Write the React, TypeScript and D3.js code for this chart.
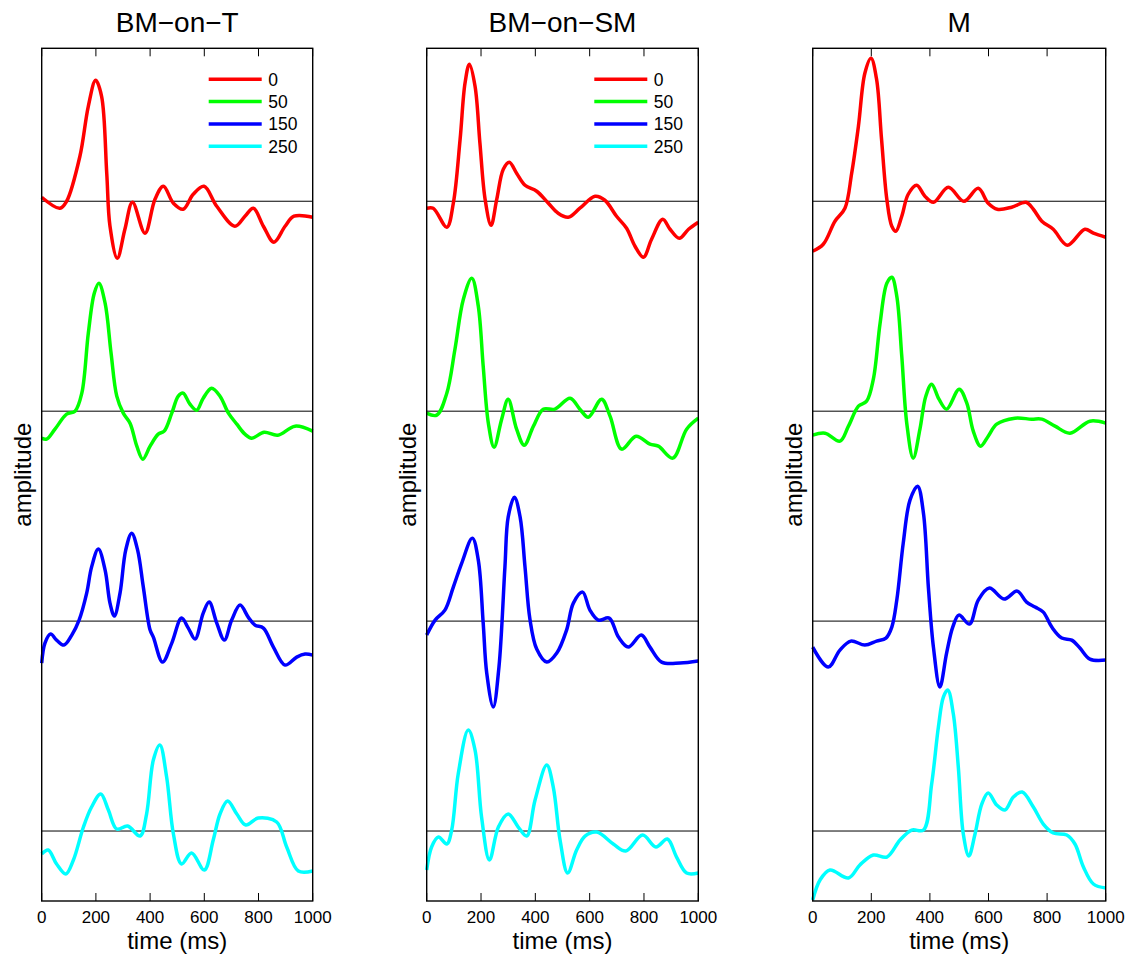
import React, { useRef, useEffect } from 'react';
import * as d3 from 'd3';

type Pt = [number, number];

// panel titles and legend entries
const conditions = ["BM\u2212on\u2212T", "BM\u2212on\u2212SM", "M"];
const delays = ["0", "50", "150", "250"];
const colors = ["#ff0000", "#00ff00", "#0000ff", "#00ffff"];
const xTicks = [0, 200, 400, 600, 800, 1000];

// [time (ms), amplitude], one array per trace
const bmT_0: Pt[] = [[0, 0.4], [67, -0.7], [92, 0], [141, 4.5], [172, 9.5], [199, 12.1], [221, 10.5], [240, 2.8], [252, -2.5], [279, -5.7], [307, -2.8], [335, -0.1], [381, -3.2], [418, 0.2], [449, 1.5], [486, -0.2], [522, -0.8], [559, 0.7], [599, 1.5], [646, -0.5], [713, -2.5], [750, -1.5], [781, -0.7], [818, -2.5], [857, -4.1], [898, -2.5], [931, -1.5], [1000, -1.6]];
const bmT_50: Pt[] = [[0, -2.7], [18, -2.8], [49, -1.8], [92, -0.3], [123, 0], [148, 1.8], [172, 7.8], [194, 11.8], [211, 12.8], [234, 10.8], [256, 5.8], [277, 1.5], [301, -0.2], [326, -1.2], [351, -3.5], [373, -4.8], [400, -3.5], [430, -2.3], [452, -2.0], [480, -0.2], [504, 1.5], [522, 1.8], [547, 0.7], [572, 0.1], [596, 1.3], [627, 2.3], [658, 1.5], [689, -0.2], [720, -1.3], [750, -2.3], [775, -2.7], [821, -2.1], [871, -2.4], [935, -1.5], [1000, -2.0]];
const bmT_150: Pt[] = [[0, -4.2], [12, -2.2], [33, -1.3], [55, -1.9], [82, -2.4], [111, -1.4], [138, 0.1], [166, 2.8], [184, 5.4], [209, 7.2], [234, 5.1], [252, 1.8], [268, 0.5], [289, 2.8], [310, 7.1], [332, 8.8], [354, 7.1], [375, 3.4], [400, -0.9], [412, -1.6], [446, -4.1], [480, -2.2], [516, 0.3], [541, -0.7], [566, -1.8], [596, 0.8], [618, 1.9], [646, -0.2], [674, -1.9], [701, 0.1], [732, 1.6], [762, 0.4], [787, -0.4], [818, -0.7], [855, -2.6], [898, -4.4], [941, -3.6], [972, -3.3], [1000, -3.4]];
const bmT_250: Pt[] = [[0, -2.3], [24, -1.9], [55, -3.3], [89, -4.3], [117, -2.9], [154, 0.4], [184, 2.4], [218, 3.7], [246, 2.1], [277, 0.2], [317, 0.5], [363, -0.5], [387, 1.7], [412, 7.1], [436, 8.6], [461, 5.4], [486, -0.3], [516, -3.3], [553, -2.2], [600, -3.9], [633, -0.9], [658, 1.7], [686, 3.0], [720, 1.7], [753, 0.6], [799, 1.3], [867, 0.9], [904, -1.6], [947, -4.0], [1000, -4.0]];

const bmSM_0: Pt[] = [[0, -0.7], [24, -0.7], [74, -2.6], [98, -0.2], [123, 6.2], [141, 11.8], [157, 13.7], [178, 11.5], [196, 5.8], [215, 0.2], [237, -2.4], [258, 0.2], [282, 3.2], [304, 3.9], [331, 2.8], [362, 1.6], [405, 1.0], [448, -0.2], [484, -1.2], [521, -1.6], [564, -0.7], [620, 0.5], [656, 0.1], [699, -1.5], [736, -2.7], [767, -4.5], [798, -5.6], [828, -3.8], [869, -1.8], [896, -2.8], [930, -3.7], [964, -2.8], [1000, -2.1]];
const bmSM_50: Pt[] = [[0, -0.2], [37, -0.4], [74, 1.8], [104, 6.2], [135, 11.2], [166, 13.3], [190, 10.5], [208, 4.5], [227, -1.2], [248, -3.6], [276, -0.8], [300, 1.2], [331, -1.8], [359, -3.4], [393, -1.5], [429, 0.2], [472, 0.2], [528, 1.3], [564, 0.2], [595, -0.6], [644, 1.2], [675, -0.5], [718, -3.8], [771, -2.5], [822, -3.3], [853, -3.5], [906, -4.7], [957, -1.8], [1000, -0.7]];
const bmSM_150: Pt[] = [[0, -1.4], [31, 0.1], [67, 1.1], [98, 3.4], [129, 5.8], [168, 8.3], [190, 6.1], [208, -0.2], [221, -5.2], [245, -8.6], [266, -4.6], [288, 5.4], [300, 10.4], [323, 12.4], [344, 10.4], [362, 5.4], [380, 0.2], [405, -2.8], [442, -4.1], [479, -3.2], [515, -0.9], [540, 1.8], [574, 2.9], [601, 1.1], [632, 0.1], [672, 0.3], [706, -1.6], [742, -2.6], [790, -1.4], [822, -2.6], [865, -4.1], [933, -4.2], [1000, -4.0]];
const bmSM_250: Pt[] = [[0, -3.9], [18, -1.6], [43, -0.6], [74, -1.3], [92, 0.1], [116, 5.7], [153, 10.1], [178, 8.1], [202, 1.4], [231, -2.9], [264, 0.4], [300, 1.7], [337, 0.4], [368, -0.5], [399, 3.1], [442, 6.6], [466, 4.4], [491, -0.9], [519, -4.2], [552, -1.9], [583, -0.5], [626, -0.1], [687, -1.3], [733, -2.0], [795, -0.4], [844, -1.6], [886, -0.8], [920, -2.6], [957, -4.2], [1000, -4.2]];

const m_0: Pt[] = [[0, -5.0], [36, -4.3], [76, -2.0], [110, -0.7], [133, 2.8], [156, 7.5], [178, 12.8], [199, 14.3], [218, 12.2], [235, 6.2], [253, 0.2], [270, -2.5], [284, -3.0], [304, -1.5], [326, 0.7], [355, 1.6], [383, 0.5], [412, -0.1], [463, 1.4], [516, 0], [565, 1.3], [599, -0.2], [630, -0.8], [679, -0.6], [728, -0.1], [753, -0.8], [782, -2.0], [821, -2.8], [869, -4.4], [929, -2.8], [958, -3.2], [1000, -3.6]];
const m_50: Pt[] = [[0, -2.4], [42, -2.2], [93, -3.0], [122, -1.5], [156, 0.5], [184, 1.0], [207, 3.2], [230, 8.8], [253, 12.8], [270, 13.4], [287, 11.5], [304, 5.5], [321, -1.2], [343, -4.7], [366, -1.8], [386, 1.5], [406, 2.7], [431, 1.2], [457, 0.2], [500, 2.2], [526, 0.8], [548, -2.0], [573, -3.5], [599, -2.5], [628, -1.3], [690, -0.7], [747, -0.8], [782, -0.8], [827, -1.5], [878, -2.2], [946, -1.0], [1000, -1.2]];
const m_150: Pt[] = [[0, -2.6], [53, -4.6], [93, -2.9], [130, -2.0], [178, -2.4], [218, -2.0], [250, -1.7], [270, -0.6], [287, 2.1], [309, 7.8], [332, 12.1], [358, 13.5], [378, 10.8], [395, 3.3], [412, -2.6], [434, -6.6], [457, -3.2], [478, -0.6], [499, 0.6], [535, -0.3], [565, 2.1], [603, 3.3], [653, 2.2], [698, 3.0], [730, 1.9], [759, 1.4], [787, 0.9], [816, -0.6], [850, -1.7], [884, -1.9], [912, -2.7], [946, -3.8], [1000, -3.9]];
const m_250: Pt[] = [[0, -6.9], [25, -4.9], [59, -3.9], [122, -4.7], [161, -3.4], [207, -2.4], [253, -2.6], [298, -0.9], [338, 0.1], [378, 0.1], [406, 4.7], [429, 10.4], [446, 13.4], [461, 14.1], [480, 11.7], [497, 6.4], [514, -0.3], [533, -2.5], [554, -0.3], [577, 2.7], [599, 3.8], [628, 2.6], [656, 2.1], [685, 3.4], [715, 3.9], [753, 2.4], [787, 0.7], [821, -0.2], [867, -0.4], [895, -1.3], [924, -3.6], [958, -5.3], [1000, -5.7]];

const panelSeries: Pt[][][] = [
    [bmT_0, bmT_50, bmT_150, bmT_250],
    [bmSM_0, bmSM_50, bmSM_150, bmSM_250],
    [m_0, m_50, m_150, m_250],
];
const offsets = [63, 42, 21, 0];

const FONT = "'Liberation Sans', Arial, Helvetica, sans-serif";

const App = () => {
    const svgRef = useRef<SVGSVGElement>(null);

    useEffect(() => {
        const svg = d3.select(svgRef.current);
        svg.selectAll("*").remove();

        const top = 48.3;
        const bottom = 901;
        const lefts = [41.7, 426.7, 812.7];
        const widths = [271, 271.6, 293];

        const y = d3.scaleLinear().domain([-7, 78.3]).range([bottom, top]);

        panelSeries.forEach((series, p) => {
            const left = lefts[p];
            const right = left + widths[p];
            const x = d3.scaleLinear().domain([0, 1000]).range([left, right]);
            const g = svg.append("g");

            // zero lines
            offsets.forEach(off => {
                g.append("line")
                    .attr("x1", left).attr("x2", right)
                    .attr("y1", y(off)).attr("y2", y(off))
                    .attr("stroke", "#000").attr("stroke-width", 1);
            });

            const line = d3.line<Pt>()
                .x(d => x(d[0]))
                .curve(d3.curveCatmullRom.alpha(0.5));

            series.forEach((s, i) => {
                g.append("path")
                    .datum(s)
                    .attr("d", line.y(d => y(d[1] + offsets[i])))
                    .attr("fill", "none")
                    .attr("stroke", colors[i])
                    .attr("stroke-width", 3.5)
                    .attr("stroke-linejoin", "round");
            });

            // box
            g.append("rect")
                .attr("x", left).attr("y", top)
                .attr("width", widths[p]).attr("height", bottom - top)
                .attr("fill", "none").attr("stroke", "#000").attr("stroke-width", 1.4);

            // inward ticks top and bottom
            xTicks.forEach(t => {
                g.append("line")
                    .attr("x1", x(t)).attr("x2", x(t))
                    .attr("y1", bottom).attr("y2", bottom - 8)
                    .attr("stroke", "#000").attr("stroke-width", 1);
                g.append("line")
                    .attr("x1", x(t)).attr("x2", x(t))
                    .attr("y1", top).attr("y2", top + 8)
                    .attr("stroke", "#000").attr("stroke-width", 1);
                g.append("text")
                    .attr("x", x(t)).attr("y", 923)
                    .attr("text-anchor", "middle")
                    .attr("font-family", FONT).attr("font-size", 17)
                    .text(t);
            });

            g.append("text")
                .attr("x", (left + right) / 2).attr("y", 949)
                .attr("text-anchor", "middle")
                .attr("font-family", FONT).attr("font-size", 24)
                .text("time (ms)");

            g.append("text")
                .attr("transform", `translate(${left - 10.7},${(top + bottom) / 2}) rotate(-90)`)
                .attr("text-anchor", "middle")
                .attr("font-family", FONT).attr("font-size", 24)
                .text("amplitude");

            g.append("text")
                .attr("x", (left + right) / 2).attr("y", 32)
                .attr("text-anchor", "middle")
                .attr("font-family", FONT).attr("font-size", 28)
                .text(conditions[p]);

            // legend on the first two panels
            if (p < 2) {
                delays.forEach((d, i) => {
                    const ly = 79.3 + i * 22.3;
                    g.append("line")
                        .attr("x1", right - 104).attr("x2", right - 51)
                        .attr("y1", ly).attr("y2", ly)
                        .attr("stroke", colors[i]).attr("stroke-width", 3.5);
                    g.append("text")
                        .attr("x", right - 44.5).attr("y", ly + 6.3)
                        .attr("font-family", FONT).attr("font-size", 17.5)
                        .text(d);
                });
            }
        });
    }, []);

    return (
        <svg ref={svgRef} width={1135} height={956}
            style={{ position: "absolute", left: 0, top: 0, background: "#fff" }} />
    );
};

export default App;
